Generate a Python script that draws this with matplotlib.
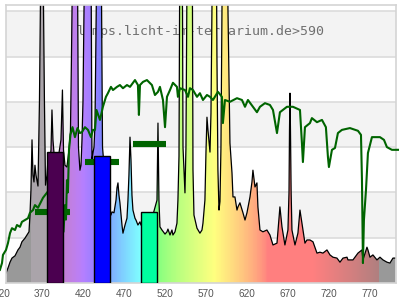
import numpy as np
import matplotlib
matplotlib.use('Agg')
import matplotlib.pyplot as plt
from matplotlib.patches import Polygon

# ---------------- data ----------------
title = 'lamps.licht-im-terrarium.de>590'

spec_nm = [325.4, 327.8, 330.3, 332.7, 336.4, 340.0, 342.5, 344.9, 348.6, 351.0, 353.5,
           354.7, 355.9, 357.2, 358.4, 359.6, 360.8, 362.1, 364.5, 366.3, 367.5, 369.4, 371.2, 372.4, 373.7,
           375.5, 376.7, 377.9, 380.4, 381.6, 382.8, 385.3, 388.9, 392.6, 394.4, 395.7, 397.5, 399.9, 402.4,
           404.2, 405.4, 406.7, 409.7, 412.8, 414.0, 415.8, 417.1, 418.3, 419.5, 420.7, 421.9, 425.6, 429.3,
           430.5, 431.7, 433.0, 434.2, 436.0, 439.1, 442.1, 443.4, 445.2, 448.8, 452.5, 453.7, 455.0, 457.4,
           459.9, 461.1, 462.3, 463.5, 464.7, 467.2, 468.4, 470.9, 473.3, 474.5, 475.7, 477.0, 478.2, 479.4,
           480.6, 483.1, 484.3, 486.7, 489.2, 490.4, 495.0, 500.0, 505.0, 510.0, 511.2, 512.4, 513.6, 516.1,
           519.8, 522.2, 523.4, 525.9, 528.3, 529.5, 532.0, 534.4, 535.6, 536.9, 537.5, 539.3, 541.2, 541.8,
           544.2, 545.4, 546.6, 550.3, 553.4, 554.0, 555.2, 558.9, 562.5, 565.0, 566.2, 568.6, 569.9, 571.1,
           572.3, 574.8, 576.0, 577.2, 578.4, 580.3, 582.1, 583.3, 584.5, 585.8, 587.0, 588.2, 589.4, 593.1,
           596.8, 598.0, 599.2, 601.7, 602.9, 605.3, 607.8, 609.0, 611.4, 615.1, 617.6, 620.0, 623.7, 626.1,
           627.3, 629.8, 632.2, 633.4, 635.9, 639.5, 644.4, 648.1, 651.8, 656.7, 660.3, 662.8, 666.4, 670.1,
           671.4, 672.0, 672.6, 673.2, 674.0, 675.0, 678.7, 682.3, 684.8, 687.2, 690.9, 693.3, 697.0, 700.7,
           705.6, 709.2, 712.9, 717.8, 721.5, 725.1, 730.0, 733.7, 737.4, 742.3, 743.5, 749.6, 755.7, 760.6,
           761.8, 766.7, 767.9, 770.4, 774.0, 778.9, 782.6, 786.3, 791.1, 794.8, 798.5, 801.6]
spec_val = [0.22, 0.33, 0.46, 0.55, 0.60, 0.73, 0.79, 0.91, 0.99, 1.06, 1.13,
            1.50, 2.05, 3.16, 2.38, 2.23, 2.60, 2.38, 2.14, 4.0, 6.2, 9.0, 6.2, 4.0, 2.16,
            2.38, 2.72, 2.49, 2.94, 3.82, 3.16, 2.60, 2.72, 3.16, 4.26, 2.94, 2.60, 2.56, 2.94,
            3.36, 4.92, 7.0, 10.0, 7.0, 3.0, 2.49, 2.60, 3.16, 4.0, 6.0, 7.5, 11.0, 7.5,
            2.72, 2.87, 3.0, 3.5, 6.5, 12.0, 6.5, 3.0, 2.6, 2.0, 1.6, 1.50, 1.57, 1.55,
            1.83, 2.10, 2.21, 1.94, 1.77, 1.28, 1.10, 1.28, 1.43, 1.83, 2.38, 3.22, 2.72, 1.94,
            1.61, 1.43, 1.39, 1.28, 1.35, 1.28, 1.25, 1.30, 1.50, 1.83, 3.53, 1.83, 1.24, 1.17,
            1.08, 1.13, 1.19, 1.06, 1.17, 1.06, 1.13, 1.32, 1.83, 2.8, 6.0, 9.0, 6.0, 3.0,
            1.99, 3.0, 6.5, 14.0, 6.0, 2.5, 1.5, 1.21, 1.10, 1.17, 1.32, 1.83, 2.9, 3.66,
            3.38, 2.89, 3.75, 6.0, 9.0, 12.0, 9.0, 5.0, 2.5, 1.61, 1.8, 3.0, 6.0, 13.0,
            6.0, 4.5, 3.09, 2.43, 1.90, 1.90, 1.61, 1.68, 1.77, 1.55, 1.39, 1.55, 1.90, 2.23,
            2.49, 2.12, 2.21, 1.68, 1.17, 1.13, 1.17, 1.06, 0.84, 0.88, 1.68, 1.24, 0.84, 1.17,
            2.0, 3.36, 4.19, 3.36, 2.0, 1.17, 0.84, 1.10, 1.61, 1.32, 0.88, 0.95, 0.95, 0.91,
            0.66, 0.68, 0.66, 0.73, 0.62, 0.57, 0.55, 0.46, 0.55, 0.57, 0.51, 0.51, 0.66, 0.73,
            0.51, 0.79, 0.73, 0.57, 0.62, 0.51, 0.57, 0.51, 0.46, 0.44, 0.55, 0.55]

sun_nm = [318.0, 320.5, 321.7, 325.4, 327.8, 330.3, 332.7, 336.4, 338.8, 342.5, 344.9, 348.6, 352.3,
          354.7, 358.4, 360.8, 364.5, 370.6, 380.0, 390.0, 395.7, 397.5, 398.7, 399.9, 401.1, 402.4,
          404.2, 406.7, 409.7, 412.8, 415.8, 418.3, 421.9, 425.6, 429.3, 431.7, 434.2, 436.0, 440.3,
          443.9, 447.6, 450.0, 453.7, 456.2, 461.1, 464.7, 468.4, 473.3, 477.0, 483.1, 486.7, 487.9,
          489.2, 492.9, 497.7, 503.8, 507.5, 511.2, 513.6, 517.3, 519.8, 522.2, 525.9, 529.5, 534.4,
          535.6, 538.1, 544.2, 547.9, 550.3, 554.0, 558.9, 562.5, 566.2, 571.1, 574.8, 578.4, 584.5,
          589.4, 590.6, 593.1, 599.2, 607.8, 613.9, 617.6, 621.2, 627.3, 632.2, 635.9, 642.0, 648.1,
          651.8, 656.7, 660.3, 668.9, 676.2, 684.8, 687.2, 688.4, 690.9, 697.0, 699.4, 705.6, 711.7,
          716.5, 719.0, 720.2, 723.9, 727.6, 731.2, 736.1, 745.9, 755.7, 759.4, 760.6, 761.8, 763.0,
          765.5, 767.9, 772.8, 782.6, 787.5, 791.1, 797.2, 804.6]
sun_val = [0.29, 0.44, 0.62, 0.73, 0.88, 1.10, 1.21, 1.17, 1.28, 1.24, 1.35, 1.39, 1.43,
           1.55, 1.61, 1.72, 1.66, 1.88, 2.10, 1.60, 1.13, 1.72, 1.40, 2.27, 2.00, 2.94,
           3.27, 3.44, 3.22, 3.42, 3.31, 3.33, 3.44, 3.38, 3.22, 3.38, 3.38, 3.82, 3.60,
           3.89, 4.11, 4.19, 4.33, 4.26, 4.33, 4.37, 4.30, 4.37, 4.33, 4.48, 4.37, 3.71,
           4.37, 4.44, 4.48, 4.37, 4.15, 4.22, 4.33, 4.04, 3.44, 4.11, 4.26, 4.42, 4.33,
           4.11, 4.30, 4.26, 4.11, 4.30, 4.26, 4.11, 4.19, 4.04, 4.15, 4.11, 4.04, 4.22,
           4.11, 3.53, 4.04, 4.00, 4.08, 4.04, 3.89, 4.04, 3.89, 3.77, 3.89, 3.97, 3.93,
           3.82, 3.31, 3.77, 3.89, 3.89, 3.82, 3.09, 2.67, 3.44, 3.53, 3.64, 3.55, 3.60,
           3.44, 2.78, 2.56, 2.94, 2.98, 3.31, 3.38, 3.42, 3.36, 3.27, 2.27, 0.44, 1.39,
           2.05, 2.87, 3.22, 3.22, 3.16, 3.00, 2.94, 2.94]

bar_nm = [385, 443, 500]
bar_val = [2.89, 2.80, 1.57]
bar_colors = ['#4b0050', '#0000ff', '#00ffa0']

seg_lo = [361.0, 422.0, 480.6]
seg_hi = [404.0, 463.5, 521.0]
seg_val = [1.57, 2.67, 3.07]

tick_nm = [370, 420, 470, 520, 570, 620, 670, 720, 770]
tick_labels = ['370', '420', '470', '520', '570', '620', '670', '720', '770']

XMIN, XMAX = 325.4, 801.6
YMAX = 6.137


def wl_color(w):
    if w < 355 or w > 780:
        return (0.6, 0.6, 0.6)
    if w < 380:
        return (0.67, 0.647, 0.67)
    if w < 440:
        r, g, b = -(w - 440) / 60.0, 0.0, 1.0
    elif w < 490:
        r, g, b = 0.0, (w - 440) / 50.0, 1.0
    elif w < 510:
        r, g, b = 0.0, 1.0, -(w - 510) / 20.0
    elif w < 580:
        r, g, b = (w - 510) / 70.0, 1.0, 0.0
    elif w < 645:
        r, g, b = 1.0, -(w - 645) / 65.0, 0.0
    else:
        r, g, b = 1.0, 0.0, 0.0
    if w < 420:
        f = 0.3 + 0.7 * (w - 380) / 40.0
    elif w > 700:
        f = 0.3 + 0.7 * (780 - w) / 80.0
    else:
        f = 1.0
    out = []
    for c in (r, g, b):
        c = (c * f) ** 0.8 if c > 0 else 0.0
        out.append(0.5 + 0.5 * c)
    return tuple(out)


fig = plt.figure(figsize=(4, 3), dpi=100)
ax = fig.add_axes([6 / 400, 17 / 300, (395.5 - 6) / 400, 278 / 300])

# alternating bands and grid lines
for lo in [1, 3, 5]:
    ax.axhspan(lo, lo + 1, color='#f3f3f3', lw=0, zorder=0)
for k in range(1, 7):
    ax.axhline(k, color='#dcdcdc', lw=1.2, zorder=0.5)

ax.text(0.5, 0.892, title, transform=ax.transAxes, ha='center', va='baseline',
        family='DejaVu Sans Mono', fontsize=9.5, color='#707070', zorder=0.8)

# rainbow fill under the spectrum
cols = np.arange(XMIN, XMAX, 1.0)
img = np.array([[wl_color(w + 0.5) for w in cols]])
im = ax.imshow(img, extent=[XMIN, XMIN + len(cols), 0, YMAX], aspect='auto',
               origin='lower', interpolation='nearest', zorder=1)
verts = [(spec_nm[0], 0)] + list(zip(spec_nm, spec_val)) + [(spec_nm[-1], 0)]
poly = Polygon(verts, closed=True, facecolor='none', edgecolor='none',
               transform=ax.transData)
ax.add_patch(poly)
im.set_clip_path(poly)

ax.plot(spec_nm, spec_val, color='black', lw=0.9, zorder=2)

ax.plot(sun_nm, sun_val, color='#006400', lw=1.5, zorder=3, clip_on=False)
ax.hlines(seg_val, seg_lo, seg_hi, colors='#006400', lw=4.4, zorder=3)

ax.bar(bar_nm, bar_val, width=20, color=bar_colors, edgecolor='black', lw=1.0, zorder=4)

ax.set_xlim(XMIN, XMAX)
ax.set_ylim(0, YMAX)
ax.set_yticks([])
ax.set_xticks(tick_nm)
ax.set_xticklabels(tick_labels, family='Liberation Sans')
ax.tick_params(axis='x', length=0, pad=4.5, labelsize=7.2, labelcolor='#555555')
# leftmost label, partly outside the figure as in the reference
ax.annotate('320', xy=(321.1, 0), xycoords=('data', 'axes fraction'),
            xytext=(0, -4.5), textcoords='offset points', ha='center', va='top',
            family='Liberation Sans', fontsize=7.2, color='#555555', annotation_clip=False)

for s in ax.spines.values():
    s.set_color('#d4d4d4')
    s.set_linewidth(1.2)

fig.savefig('out.png', dpi=100, facecolor='white')
